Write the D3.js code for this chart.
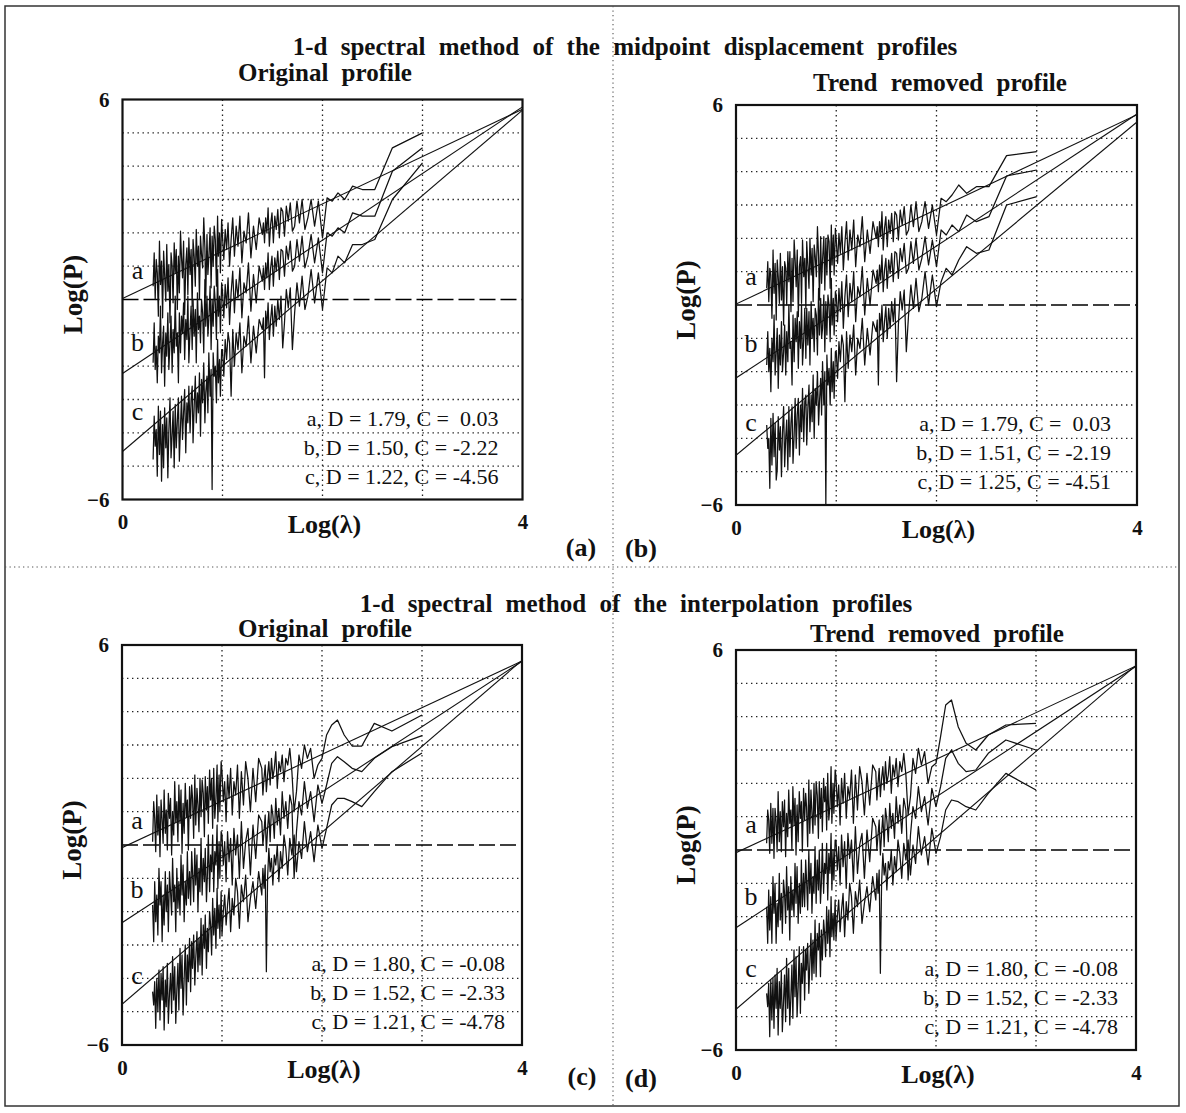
<!DOCTYPE html>
<html>
<head>
<meta charset="utf-8">
<script src="https://cdn.jsdelivr.net/npm/d3@7"></script>
<style>
  body { margin: 0; background: #fff; }
  text { font-family: 'Liberation Serif', 'Times New Roman', serif; fill: #111; }
</style>
</head>
<body>
<svg id="fig" width="1186" height="1113"></svg>
<script>
// Wavenumber index k of each spectral estimate; Log(λ) = log10(1000 / k)
const wavenumbers = [
  ...d3.range(1, 41),
  ...d3.range(43, 101, 3),
  102, 105, 107, 110, 112, 115, 118, 121, 124, 127, 130, 133, 137, 140, 143, 147, 150, 154, 158, 162,
  166, 170, 174, 178, 183, 187, 192, 197, 201, 206, 211, 217, 222, 227, 233, 239, 245, 251, 257, 263,
  270, 276, 283, 290, 297, 304, 312, 319, 327, 335, 344, 352, 361, 369, 379, 388, 397, 407, 417, 427,
  438, 449, 460, 471, 482, 494
];

// Log(P) of the midpoint displacement profiles, original
const midOrigA = [
  5.0, 4.55, 3.3, 3.3, 3.4, 3.0, 3.2, 2.95, 3.05, 1.85,
  2.95, 2.2, 3.0, 2.45, 2.1, 3.0, 2.3, 2.95, 2.2, 2.05, 2.9, 2.35, 2.8, 1.9, 2.65, 2.75, 1.85, 2.7, 2.1, 2.5,
  1.7, 2.6, 2.25, 1.6, 2.75, 2.0, 2.45, 1.7, 2.3, 1.95,
  2.45, 1.5, 2.2, 1.25, 2.6, 1.7, 2.05, 1.1, 2.5, 1.6, 2.2, 1.3, 2.45, 1.8, 1.0, 2.3, 1.5, 2.1, 1.2, 1.9,
  2.4, 0.8, 2.0, 1.3, 2.5, 0.4, 1.8, 2.2, 1.0, 1.9, 0.35, 2.15, 1.25, 0.75, 1.95, 0.05, 1.55, 2.45, 0.95, 1.35,
  1.9, 0.0, 1.6, 1.0, 2.1, 0.4, 1.3, 1.8, -0.2, 1.5, 0.75, 1.85, 0.15, 1.55, 1.05, -0.45, 1.75, 0.65, 1.25, 2.05,
  0.2, 1.3, -0.3, 1.5, 0.8, 1.7, -0.1, 1.0, 1.4, -0.7, 1.05, 0.25, 1.65, -0.05, 0.75, 1.45, -0.55, 1.15, 0.45, 1.75,
  -0.5, 0.8, 1.2, 0.0, 1.4, 0.4
];
const midOrigB = [
  4.55, 3.85, 2.5, 2.5, 2.6, 2.0, 2.15, 1.9, 2.0, 0.8,
  1.85, 1.1, 1.95, 1.3, 0.95, 1.9, 1.15, 1.8, 1.0, 0.85, 1.75, 1.2, 1.6, 0.7, 1.45, 1.5, 0.6, 1.45, 0.85, 1.25,
  0.4, 1.3, 0.95, 0.3, 1.4, 0.65, 1.1, 0.3, 0.95, 0.55,
  1.0, -0.1, 0.75, -0.35, 1.1, 0.2, 0.5, -0.55, 0.95, 0.05, 0.6, -0.4, 0.85, 0.2, -0.75, 0.65, -0.25, 0.45, -0.55, 0.25,
  0.5, -1.0, 0.1, -0.5, 0.9, -1.2, -0.1, 0.4, -0.8, 0.0, -1.5, 0.4, -0.6, -1.1, 0.1, -0.8, 0.6, -1.6, -0.4, 0.0,
  -1.3, -0.5, -0.9, 0.2, -1.9, -0.3, -1.1, 0.0, -1.5, -0.2, -0.9, -1.9, 0.1, -1.2, -0.6, -1.8, -0.1, -1.0, -0.5, -1.6,
  -0.4, -2.5, -1.0, -1.4, 0.1, -1.6, -0.9, -2.2, -0.5, -1.3, -2.1, -0.4, -1.7, -1.0, -2.6, -0.8, -1.3, -2.2, -0.2, -1.6,
  -1.1, -2.5, -1.4, -2.1, -0.7, -1.9
];
const midOrigC = [
  4.1, 3.0, 1.8, 1.65, 1.65, 1.1, 1.3, 0.8, 0.95, -0.3,
  0.8, -0.1, 0.9, 0.1, -0.3, 0.7, -0.2, 0.5, -0.4, -1.5, 0.35, -0.25, 0.3, -0.7, -1.45, 0.1, -0.6, 0.0, -0.8, -0.2,
  -1.1, -0.15, -0.6, -1.2, -0.1, -0.85, -0.35, -2.35, -0.55, -0.9,
  -0.6, -1.6, -0.8, -1.9, -0.5, -1.4, -1.1, -2.2, -0.7, -1.5, -1.0, -2.0, -0.9, -2.9, -1.3, -1.0, -1.8, -1.2, -2.3, -1.5,
  -1.5, -2.9, -1.8, -2.5, -1.2, -3.1, -2.0, -2.3, -1.6, -5.7, -2.1, -2.9, -1.6, -3.4, -2.3, -2.8, -3.7, -1.9, -3.1, -2.4,
  -4.1, -2.2, -3.4, -2.8, -3.7, -2.3, -3.2, -4.3, -2.6, -3.0, -4.0, -2.6, -3.7, -3.1, -4.6, -2.7, -3.4, -4.2, -2.9, -3.8,
  -4.85, -2.95, -3.65, -4.45, -3.15, -5.05, -3.35, -4.05, -4.75, -2.95, -3.95, -5.35, -3.55, -4.45, -3.25, -5.05, -3.75, -5.45, -3.35, -4.65,
  -3.2, -5.3, -3.9, -4.4, -3.5, -4.8
];

// Log(P) of the midpoint displacement profiles, trend removed
const midTrendA = [
  4.6, 4.48, 3.55, 3.55, 3.35, 3.6, 3.3, 3.1, 3.2, 2.1,
  3.0, 2.3, 3.1, 2.5, 2.2, 3.1, 2.35, 3.0, 2.25, 2.1, 2.95, 2.4, 2.85, 1.95, 2.7, 2.8, 1.9, 2.75, 2.15, 2.55,
  1.75, 2.65, 2.3, 1.65, 2.8, 2.05, 2.5, 1.75, 2.35, 2.0,
  2.5, 1.55, 2.25, 1.3, 2.65, 1.75, 2.1, 1.15, 2.55, 1.65, 2.25, 1.35, 2.5, 1.85, 1.05, 2.35, 1.55, 2.15, 1.25, 1.95,
  2.3, 0.9, 2.1, 1.2, 2.4, 0.5, 1.9, 2.1, 0.9, 2.0, 0.45, 2.05, 1.35, 0.65, 2.05, 0.15, 1.45, 2.35, 0.85, 1.45,
  1.8, 0.1, 1.7, 0.9, 2.0, 0.5, 1.2, 1.9, -0.1, 1.4, 0.85, 1.95, 0.05, 1.45, 1.15, -0.35, 1.65, 0.55, 1.35, 1.95,
  0.1, 1.4, -0.2, 1.6, 0.7, 1.6, 0.0, 1.1, 1.3, -0.6, 1.15, 0.15, 1.55, 0.05, 0.85, 1.35, -0.45, 1.25, 0.35, 1.65,
  -0.4, 0.9, 1.1, 0.1, 1.3, 0.5
];
const midTrendB = [
  4.05, 3.87, 2.65, 2.5, 2.7, 2.2, 2.4, 2.1, 2.25, 1.15,
  1.95, 1.2, 2.05, 1.4, 1.05, 2.0, 1.25, 1.9, 1.1, 0.95, 1.85, 1.3, 1.7, 0.8, 1.55, 1.6, 0.7, 1.55, 0.95, 1.35,
  0.5, 1.4, 1.05, 0.4, 1.5, 0.75, 1.2, 0.4, 1.05, 0.65,
  1.05, 0.0, 0.8, -0.3, 1.15, 0.25, 0.55, -0.5, 1.0, 0.1, 0.65, -0.35, 0.9, 0.25, -0.7, 0.7, -0.2, 0.5, -0.5, 0.3,
  0.4, -0.9, 0.2, -0.6, 0.8, -1.1, 0.0, 0.3, -0.9, 0.1, -1.4, 0.3, -0.7, -1.0, 0.2, -0.9, 0.5, -1.5, -0.3, -0.1,
  -1.4, -0.4, -1.0, 0.1, -1.8, -0.2, -1.2, -0.1, -1.6, -0.1, -1.0, -1.8, 0.0, -1.3, -0.5, -1.9, -0.2, -1.1, -0.4, -1.7,
  -0.3, -2.4, -1.1, -1.3, 0.0, -1.7, -0.8, -2.1, -0.6, -1.4, -2.0, -0.5, -1.8, -0.9, -2.5, -0.7, -1.4, -2.1, -0.3, -1.7,
  -1.0, -2.6, -1.3, -2.0, -0.8, -1.8
];
const midTrendC = [
  3.25, 3.0, 1.65, 1.55, 1.75, 1.35, 0.9, 1.1, 0.7, -0.05,
  0.9, 0.0, 1.0, 0.2, -0.2, 0.8, -0.1, 0.6, -0.3, -1.4, 0.45, -0.15, 0.4, -0.6, -2.3, 0.2, -0.5, 0.1, -0.7, -0.1,
  -1.0, -0.05, -0.5, -1.1, 0.0, -0.75, -0.25, -2.4, -0.45, -0.8,
  -0.5, -1.5, -0.7, -1.8, -0.4, -1.3, -1.0, -2.1, -0.6, -1.4, -0.9, -1.9, -0.8, -2.9, -1.2, -0.9, -1.7, -1.1, -2.2, -1.4,
  -1.4, -2.8, -1.7, -2.6, -1.3, -3.0, -1.9, -2.4, -1.5, -6.0, -2.0, -3.0, -1.7, -3.3, -2.2, -2.9, -3.6, -2.0, -3.0, -2.5,
  -4.0, -2.1, -3.5, -2.7, -3.8, -2.4, -3.1, -4.2, -2.7, -2.9, -4.1, -2.5, -3.8, -3.0, -4.5, -2.8, -3.3, -4.3, -2.8, -3.9,
  -4.75, -3.05, -3.55, -4.55, -3.05, -4.95, -3.45, -3.95, -4.85, -3.05, -3.85, -5.15, -3.65, -4.35, -3.35, -4.95, -5.25, -3.55, -4.55, -3.25,
  -4.8, -3.4, -5.5, -4.0, -4.3, -3.6
];

// Log(P) of the interpolation profiles, original
const intOrigA = [
  3.9, 3.42, 3.65, 2.97, 2.97, 3.3, 3.75, 3.6, 3.3, 2.6,
  2.4, 2.0, 2.9, 2.6, 3.0, 2.3, 2.7, 1.6, 1.0, 2.2, 2.9, 2.4, 2.6, 1.9, 2.7, 2.2, 2.5, 1.7, 2.8, 2.3,
  2.0, 2.6, 1.8, 2.5, 2.1, 1.6, 2.4, 2.0, 1.5, 2.3,
  2.6, 1.3, 2.3, 1.0, 2.0, 2.5, 1.2, 2.2, 0.8, 2.4, 1.5, 1.9, 0.9, 2.3, 1.4, 2.1, 0.7, 1.9, 1.3, 2.2,
  2.5, 1.0, 2.1, 0.7, 2.4, 1.4, 0.8, 2.3, 0.5, 2.0, 1.35, 2.25, 0.65, 1.75, 1.05, 2.05, 0.25, 1.55, 1.95, 0.85,
  2.0, 0.4, 1.2, 1.7, 0.6, 2.1, 0.2, 1.4, 1.8, 0.8, 1.75, -0.15, 1.35, 0.85, 1.85, 0.35, 1.25, -0.25, 1.65, 0.65,
  1.8, 0.1, 1.3, 0.7, 1.9, 0.3, 1.0, -0.3, 1.4, 0.8, 1.55, -0.15, 1.05, 0.35, 1.65, 0.05, 0.75, 1.35, -0.35, 1.15,
  0.3, 1.5, -0.2, 0.8, 1.3, 0.1
];
const intOrigB = [
  3.28, 2.95, 2.6, 2.2, 2.3, 2.5, 2.65, 2.45, 1.8, 1.25,
  1.8, 0.7, 1.6, 1.1, 1.9, 0.9, 1.3, 0.4, -1.0, 1.2, 1.5, 0.5, 1.3, 0.8, 1.6, 0.3, 1.1, 0.6, 1.4, 0.2,
  0.9, 1.2, 0.1, 1.0, 0.5, -0.2, 0.9, 0.4, 0.0, 0.7,
  0.9, -0.4, 0.6, -0.9, 0.5, 0.1, -0.7, 0.7, -1.0, 0.3, -0.3, 0.5, -1.2, 0.2, -0.5, 0.4, -1.1, 0.1, -0.6, 0.3,
  0.4, -1.0, 0.1, -1.3, 0.6, -0.6, -0.2, -1.4, 0.3, -0.8, -0.3, -1.4, 0.3, -0.9, -1.7, -0.1, -1.1, -0.4, -1.5, 0.2,
  -1.4, -0.7, -2.0, -0.3, -1.2, -0.1, -1.7, -0.8, -0.2, -1.8, -0.8, -1.6, -0.2, -1.8, -1.1, -2.3, -0.6, -1.5, -0.3, -2.1,
  -1.1, -1.9, -0.7, -2.6, -1.2, -1.7, -0.4, -2.1, -1.4, -0.8, -2.6, -1.2, -2.0, -0.8, -2.4, -1.5, -2.9, -1.1, -1.8, -0.7,
  -2.7, -1.5, -2.3, -1.1, -2.9, -1.8
];
const intOrigC = [
  2.76, 2.2, 1.6, 1.15, 1.3, 1.4, 1.4, 1.2, 0.5, -0.1,
  0.6, -0.5, 0.4, -0.2, 0.7, -0.4, 0.1, -0.8, 0.3, -0.3, 0.2, -0.9, -0.1, 0.3, -0.7, -0.2, -1.1, 0.0, -0.6, -0.3,
  -1.2, -0.4, -0.8, -0.1, -1.0, -3.8, -0.6, -1.3, -0.7, -1.5,
  -0.8, -1.9, -1.1, -1.6, -2.3, -0.9, -1.7, -1.2, -2.5, -1.4, -1.0, -2.1, -1.6, -2.6, -1.3, -1.8, -2.4, -1.5, -2.0, -2.7,
  -1.4, -2.8, -1.8, -2.5, -1.3, -3.1, -1.9, -2.7, -1.6, -3.3, -2.4, -2.0, -3.2, -2.5, -3.7, -2.1, -3.1, -2.4, -3.9, -2.2,
  -3.6, -2.8, -3.8, -2.6, -3.4, -4.2, -2.7, -3.7, -2.9, -4.4, -2.8, -4.1, -3.3, -4.8, -3.0, -4.0, -5.1, -3.3, -4.3, -3.1,
  -4.95, -3.55, -4.35, -5.35, -3.65, -4.65, -3.35, -5.05, -3.85, -4.45, -5.35, -3.55, -4.85, -4.05, -5.55, -3.65, -4.65, -3.85, -5.25, -3.75,
  -5.0, -4.0, -5.5, -4.1, -4.8, -4.4
];

// Log(P) of the interpolation profiles, trend removed
const intTrendA = [
  3.8, 3.75, 3.45, 3.0, 3.2, 3.7, 4.5, 4.35, 3.4, 2.6,
  2.5, 2.0, 2.95, 2.55, 3.05, 2.3, 2.75, 1.6, 1.05, 2.25, 2.9, 2.35, 2.65, 1.9, 2.75, 2.2, 2.55, 1.7, 2.8, 2.25,
  2.0, 2.65, 1.8, 2.5, 2.15, 1.6, 2.45, 2.0, 1.5, 2.35,
  2.55, 1.35, 2.3, 1.05, 2.05, 2.5, 1.2, 2.25, 0.8, 2.4, 1.55, 1.9, 0.95, 2.3, 1.4, 2.15, 0.75, 1.95, 1.3, 2.2,
  2.4, 1.1, 2.0, 0.8, 2.5, 1.3, 0.9, 2.3, 0.6, 1.9, 1.45, 2.15, 0.55, 1.85, 0.95, 2.05, 0.35, 1.65, 2.05, 0.75,
  2.0, 0.5, 1.1, 1.8, 0.5, 2.1, 0.1, 1.3, 1.7, 0.9, 1.85, -0.05, 1.45, 0.95, 1.75, 0.25, 1.35, -0.15, 1.55, 0.75,
  1.9, 0.0, 1.2, 0.8, 1.8, 0.4, 1.1, -0.2, 1.5, 0.7, 1.45, -0.05, 1.15, 0.25, 1.75, -0.05, 0.85, 1.25, -0.25, 1.25,
  0.2, 1.4, -0.1, 0.9, 1.2, 0.2
];
const intTrendB = [
  3.0, 3.3, 2.9, 2.4, 2.35, 2.6, 3.0, 2.75, 1.9, 1.3,
  1.85, 0.75, 1.6, 1.15, 1.9, 0.95, 1.3, 0.45, -0.9, 1.2, 1.55, 0.5, 1.35, 0.8, 1.6, 0.35, 1.1, 0.65, 1.4, 0.25,
  0.9, 1.25, 0.1, 1.05, 0.5, -0.15, 0.9, 0.45, 0.0, 0.7,
  0.95, -0.35, 0.6, -0.85, 0.5, 0.15, -0.7, 0.7, -0.95, 0.3, -0.25, 0.5, -1.15, 0.25, -0.5, 0.45, -1.05, 0.1, -0.6, 0.3,
  0.3, -0.9, 0.0, -1.2, 0.5, -0.7, -0.1, -1.5, 0.2, -0.7, -0.4, -1.3, 0.2, -1.0, -1.6, 0.0, -1.2, -0.3, -1.6, 0.1,
  -1.3, -0.8, -1.9, -0.4, -1.3, 0.0, -1.8, -0.9, -0.3, -1.7, -0.7, -1.7, -0.3, -1.9, -1.0, -2.2, -0.5, -1.6, -0.4, -2.0,
  -1.2, -1.8, -0.8, -2.7, -1.1, -1.8, -0.5, -2.2, -1.3, -0.9, -2.5, -1.3, -2.1, -0.7, -2.3, -1.6, -2.8, -1.0, -1.9, -0.8,
  -2.8, -1.4, -2.4, -1.2, -2.8, -1.7
];
const intTrendC = [
  1.8, 2.3, 1.7, 1.2, 1.3, 1.45, 1.5, 1.2, 0.4, -0.1,
  0.65, -0.45, 0.4, -0.15, 0.7, -0.4, 0.15, -0.75, 0.3, -0.3, 0.2, -0.85, -0.1, 0.3, -0.65, -0.2, -1.05, 0.0, -0.6, -0.35,
  -1.2, -0.4, -0.75, -0.1, -1.0, -3.7, -0.6, -1.3, -0.7, -1.5,
  -0.8, -1.85, -1.1, -1.6, -2.2, -0.9, -1.7, -1.25, -2.5, -1.4, -1.0, -2.1, -1.55, -2.6, -1.3, -1.8, -2.45, -1.5, -2.0, -2.7,
  -1.5, -2.7, -1.9, -2.6, -1.4, -3.2, -1.8, -2.8, -1.7, -3.2, -2.5, -2.1, -3.3, -2.4, -3.8, -2.2, -3.0, -2.5, -3.8, -2.1,
  -3.7, -2.7, -3.9, -2.5, -3.5, -4.3, -2.8, -3.6, -3.0, -4.5, -2.9, -4.0, -3.4, -4.9, -2.9, -4.1, -5.0, -3.2, -4.4, -3.0,
  -5.05, -3.45, -4.45, -5.25, -3.55, -4.75, -3.25, -5.15, -3.75, -4.55, -5.45, -3.65, -4.75, -3.95, -5.55, -3.55, -4.75, -3.75, -5.35, -3.85,
  -5.1, -3.9, -5.6, -4.0, -4.7, -4.3
];

// Fitted fractal dimension D and intercept C of each spectrum (a, b, c)
const seriesNames = ["a", "b", "c"];
const midOrigD = [1.79, 1.50, 1.22],   midOrigIc = [0.03, -2.22, -4.56];
const midTrendD = [1.79, 1.51, 1.25],  midTrendIc = [0.03, -2.19, -4.51];
const intOrigD = [1.80, 1.52, 1.21],   intOrigIc = [-0.08, -2.33, -4.78];
const intTrendD = [1.80, 1.52, 1.21],  intTrendIc = [-0.08, -2.33, -4.78];

// Axis ranges and grid
const xDomain = [0, 4], yDomain = [-6, 6];
const xTicks = [0, 4], yTicks = [-6, 6];
const xGrid = [1, 2, 3];
const yGrid = [-5, -4, -3, -2, -1, 1, 2, 3, 4, 5];

const svg = d3.select("#fig");

// outer frame and the dotted quadrant dividers
svg.append("rect").attr("x", 5).attr("y", 6).attr("width", 1174).attr("height", 1100)
  .attr("fill", "none").attr("stroke", "#333").attr("stroke-width", 1.5);
svg.append("line").attr("x1", 5).attr("x2", 1179).attr("y1", 567).attr("y2", 567)
  .attr("stroke", "#555").attr("stroke-width", 1.1).attr("stroke-dasharray", "1.3,3.2");
svg.append("line").attr("x1", 613).attr("x2", 613).attr("y1", 6).attr("y2", 1106)
  .attr("stroke", "#555").attr("stroke-width", 1.1).attr("stroke-dasharray", "1.3,3.2");

// headings
const headings = [
  { t: "1-d spectral method of the midpoint displacement profiles", x: 625, y: 55 },
  { t: "Original profile", x: 325, y: 81 },
  { t: "Trend removed profile", x: 940, y: 91 },
  { t: "1-d spectral method of the interpolation profiles", x: 636, y: 612 },
  { t: "Original profile", x: 325, y: 637 },
  { t: "Trend removed profile", x: 937, y: 642 }
];
svg.selectAll("text.heading").data(headings).join("text")
  .attr("class", "heading")
  .attr("x", d => d.x).attr("y", d => d.y)
  .attr("text-anchor", "middle")
  .style("font-size", "25px").style("font-weight", "bold").style("word-spacing", "7px")
  .text(d => d.t);

const panels = [
  { tag: "(a)", x: 122.5, y: 99.5, w: 400, h: 400, series: [midOrigA, midOrigB, midOrigC],
    D: midOrigD, C: midOrigIc, labelY: [172, 244, 313], noteRight: 24, tagX: 581, tagY: 556 },
  { tag: "(b)", x: 736, y: 105, w: 401, h: 400, series: [midTrendA, midTrendB, midTrendC],
    D: midTrendD, C: midTrendIc, labelY: [173, 240, 319], noteRight: 26, tagX: 641, tagY: 557 },
  { tag: "(c)", x: 122, y: 645, w: 400, h: 400, series: [intOrigA, intOrigB, intOrigC],
    D: intOrigD, C: intOrigIc, labelY: [177, 246, 332], noteRight: 17, tagX: 582, tagY: 1085 },
  { tag: "(d)", x: 736, y: 650, w: 400, h: 400, series: [intTrendA, intTrendB, intTrendC],
    D: intTrendD, C: intTrendIc, labelY: [176, 248, 320], noteRight: 18, tagX: 641, tagY: 1087 }
];

panels.forEach((p, pi) => {
  const g = svg.append("g").attr("transform", `translate(${p.x},${p.y})`);
  const x = d3.scaleLinear().domain(xDomain).range([0, p.w]);
  const y = d3.scaleLinear().domain(yDomain).range([p.h, 0]);

  const clipId = "clip" + pi;
  g.append("clipPath").attr("id", clipId)
    .append("rect").attr("width", p.w).attr("height", p.h);

  // dotted grid
  g.selectAll("line.gx").data(xGrid).join("line").attr("class", "gx")
    .attr("x1", d => x(d)).attr("x2", d => x(d)).attr("y1", 0).attr("y2", p.h)
    .attr("stroke", "#222").attr("stroke-width", 1.3).attr("stroke-dasharray", "1.4,3.6");
  g.selectAll("line.gy").data(yGrid).join("line").attr("class", "gy")
    .attr("x1", 0).attr("x2", p.w).attr("y1", d => y(d)).attr("y2", d => y(d))
    .attr("stroke", "#222").attr("stroke-width", 1.3).attr("stroke-dasharray", "1.4,3.6");

  // zero reference line
  g.append("line").attr("x1", 0).attr("x2", p.w).attr("y1", y(0)).attr("y2", y(0))
    .attr("stroke", "#000").attr("stroke-width", 1.5).attr("stroke-dasharray", "16,5");

  const plot = g.append("g").attr("clip-path", `url(#${clipId})`);

  // power spectra
  const spectrum = d3.line()
    .x((d, i) => x(Math.log10(1000 / wavenumbers[i])))
    .y(d => y(d));
  plot.selectAll("path.spec").data(p.series).join("path").attr("class", "spec")
    .attr("d", spectrum)
    .attr("fill", "none").attr("stroke", "#111").attr("stroke-width", 1.25)
    .attr("stroke-linejoin", "round");

  // fitted lines: Log(P) = C + (5 - 2D) Log(λ)
  const fits = p.D.map((D, i) => ({ D, C: p.C[i] }));
  plot.selectAll("line.fit").data(fits).join("line").attr("class", "fit")
    .attr("x1", x(xDomain[0])).attr("x2", x(xDomain[1]))
    .attr("y1", d => y(d.C + (5 - 2 * d.D) * xDomain[0]))
    .attr("y2", d => y(d.C + (5 - 2 * d.D) * xDomain[1]))
    .attr("stroke", "#111").attr("stroke-width", 1.1);

  // frame of the plot area
  g.append("rect").attr("width", p.w).attr("height", p.h)
    .attr("fill", "none").attr("stroke", "#111").attr("stroke-width", 2.2);

  // axes with end labels only
  const ax = g.append("g").attr("transform", `translate(0,${p.h})`)
    .call(d3.axisBottom(x).tickValues(xTicks).tickSize(0).tickPadding(15).tickFormat(d3.format("d")));
  const ay = g.append("g")
    .call(d3.axisLeft(y).tickValues(yTicks).tickSize(0).tickPadding(13).tickFormat(d3.format("d")));
  [ax, ay].forEach(a => {
    a.select(".domain").remove();
    a.selectAll("text").style("font-family", "'Liberation Serif', serif")
      .style("font-size", "21px").style("font-weight", "bold").attr("fill", "#111");
  });

  // axis titles
  g.append("text").attr("x", p.w / 2 + 2).attr("y", p.h + 33).attr("text-anchor", "middle")
    .style("font-size", "26px").style("font-weight", "bold").text("Log(λ)");
  g.append("text").attr("transform", `translate(-41,${p.h / 2 - 5}) rotate(-90)`)
    .attr("text-anchor", "middle")
    .style("font-size", "27px").style("font-weight", "bold").text("Log(P)");

  // series letters on the left
  g.selectAll("text.lab").data(seriesNames).join("text").attr("class", "lab")
    .attr("x", 15).attr("y", (d, i) => p.labelY[i] + 7)
    .attr("text-anchor", "middle")
    .style("font-size", "26px").text(d => d);

  // fit results
  const fmt = v => (v < 0 ? v.toFixed(2) : " " + v.toFixed(2));
  g.selectAll("text.note").data(fits).join("text").attr("class", "note")
    .attr("x", p.w - p.noteRight)
    .attr("y", (d, i) => p.h - 81 + 29 * i + 7)
    .attr("text-anchor", "end")
    .style("font-size", "22px").style("white-space", "pre")
    .text((d, i) => `${seriesNames[i]}, D = ${d.D.toFixed(2)}, C = ${fmt(d.C)}`);

  // panel tag
  svg.append("text").attr("x", p.tagX).attr("y", p.tagY).attr("text-anchor", "middle")
    .style("font-size", "26px").style("font-weight", "bold").text(p.tag);
});
</script>
</body>
</html>
